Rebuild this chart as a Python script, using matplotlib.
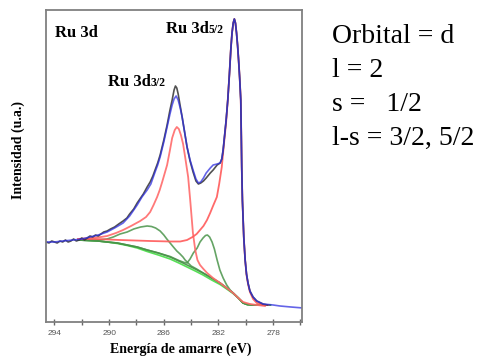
import matplotlib
matplotlib.use("Agg")
import matplotlib.pyplot as plt

# ---- data (binding energy in eV, intensity in a.u.) ----
env_E = [294.61, 294.00, 293.40, 292.63, 292.00, 291.39, 290.80, 290.15, 289.60, 288.98,
         288.50, 287.95, 287.60, 287.22, 286.95, 286.64, 286.45, 286.27, 286.00, 285.76,
         285.55, 285.39, 285.25, 285.10, 284.95, 284.80, 284.66, 284.48, 284.30, 284.08,
         283.86, 283.65, 283.47, 283.30, 283.10, 282.90, 282.60, 282.39, 282.10, 281.88,
         281.76, 281.66, 281.55, 281.44, 281.32, 281.20, 281.10, 281.01, 280.92, 280.84,
         280.76, 280.68, 280.60, 280.53, 280.45, 280.37, 280.33, 280.30, 280.25, 280.15,
         280.05, 279.95, 279.84, 279.70, 279.47, 279.20, 278.74, 278.00, 277.50, 276.70,
         275.81]
env_I = [80, 80, 81, 82, 83, 85, 87, 90, 94, 99,
         106, 117, 125, 132, 138, 150, 157, 165, 180, 195,
         208, 217, 223, 226, 222, 214, 205, 190, 175, 162,
         152, 143, 139, 140, 144, 149, 154, 157, 158, 159,
         163, 172, 187, 202, 222, 248, 272, 289, 299, 303,
         299, 289, 276, 262, 244, 222, 185, 155, 122, 85,
         62, 48, 39, 31, 25, 21, 18, 17, 16, 15,
         14]

data_E = [294.61, 294.40, 294.20, 294.00, 293.80, 293.60, 293.40, 293.20, 293.00, 292.80,
          292.60, 292.40, 292.20, 292.00, 291.80, 291.60, 291.40, 291.20, 291.00, 290.80,
          290.60, 290.40, 290.15, 289.90, 289.60, 289.30, 288.98, 288.70, 288.50, 288.20,
          287.95, 287.70, 287.50, 287.22, 287.00, 286.80, 286.64, 286.45, 286.27, 286.00,
          285.76, 285.55, 285.39, 285.25, 285.15, 285.05, 284.95, 284.80, 284.66, 284.48,
          284.30, 284.08, 283.86, 283.65, 283.47, 283.30, 283.10, 282.90, 282.60, 282.39,
          282.10, 281.88, 281.76, 281.66, 281.55, 281.44, 281.32, 281.20, 281.10, 281.01,
          280.92, 280.84, 280.76, 280.68, 280.60, 280.53, 280.45, 280.37, 280.33, 280.30,
          280.25, 280.15, 280.05, 279.95, 279.84, 279.70, 279.47, 279.20, 278.74, 278.40]
data_I = [80, 79, 81, 80, 79, 81, 80, 82, 80, 81,
          83, 81, 82, 84, 82, 84, 86, 85, 87, 86,
          88, 90, 91, 93, 95, 98, 101, 104, 108, 113,
          119, 124, 128, 135, 140, 146, 152, 159, 167, 182,
          197, 212, 222, 232, 236, 234, 228, 216, 205, 190,
          175, 161, 150, 141, 138, 139, 141, 144, 149, 152,
          157, 159, 163, 172, 187, 202, 222, 248, 272, 289,
          299, 303, 299, 289, 276, 262, 244, 222, 185, 155,
          122, 85, 62, 48, 39, 31, 25, 21, 18, 17]

p32_E = [292.27, 291.40, 290.60, 290.15, 289.50, 288.98, 288.40, 287.73, 287.30, 287.00,
         286.75, 286.49, 286.30, 286.12, 285.95, 285.76, 285.55, 285.39, 285.20, 285.05,
         284.90, 284.75, 284.59, 284.44, 284.22, 284.07, 283.87, 283.70, 283.54, 283.35,
         283.10, 282.83, 282.40, 281.88, 281.40, 280.93, 280.55, 280.20, 279.70, 279.18,
         278.60]
p32_I = [83, 84, 85, 86, 89, 92, 96, 101, 105, 110,
         117, 125, 132, 140, 148, 157, 172, 184, 192, 195,
         193, 187, 178, 165, 145, 122, 89, 72, 62, 57,
         53, 49, 44, 39, 34, 29, 24, 20, 18, 17,
         16]

p52_E = [292.27, 291.00, 289.20, 287.00, 285.50, 284.80, 284.30, 283.90, 283.60, 283.35,
         283.10, 282.84, 282.61, 282.40, 282.12, 281.95, 281.76, 281.60, 281.44, 281.32,
         281.20, 281.10, 281.01, 280.92, 280.84, 280.76, 280.68, 280.60, 280.53, 280.45,
         280.37, 280.33, 280.30, 280.25, 280.15, 280.05, 279.95, 279.84, 279.70, 279.47,
         279.20, 278.74, 278.37]
p52_I = [83, 83, 82, 81, 80.5, 80.5, 82, 85, 88, 92,
         96, 102, 109, 116, 125, 138, 155, 178, 200, 222,
         248, 272, 289, 299, 303, 299, 289, 276, 262, 244,
         222, 185, 155, 122, 85, 62, 47, 38, 30, 23,
         19, 17, 17]

sat1_E = [292.27, 291.50, 290.80, 290.15, 289.70, 289.20, 288.68, 288.20, 287.70, 287.22,
          286.90, 286.60, 286.27, 286.00, 285.78, 285.54, 285.30, 285.05, 284.81, 284.60,
          284.44, 284.22, 284.00, 283.60, 283.13, 282.50, 281.88, 281.40, 280.93, 280.55,
          280.20, 279.90, 279.47, 278.37]
sat1_I = [82, 82, 82, 83, 85, 88, 90, 93, 95, 96,
          95.5, 94, 91, 87, 83, 79, 75, 71, 68, 65,
          62, 59, 56, 53, 49, 44, 39, 34, 29, 24,
          19, 17.5, 17, 17]

sat2_E = [292.27, 291.50, 290.80, 290.15, 289.40, 288.68, 287.95, 287.22, 286.40, 285.54,
          284.90, 284.50, 284.30, 284.08, 283.84, 283.56, 283.35, 283.13, 282.95, 282.81,
          282.65, 282.47, 282.30, 282.10, 281.90, 281.66, 281.40, 281.15, 280.93, 280.55,
          280.20, 279.90, 279.47, 278.37]
sat2_I = [82, 81.5, 81, 80, 79, 77, 75, 72, 69, 65.5,
          61.5, 59.5, 59, 63, 69, 74, 80, 84, 86.5, 87,
          85, 80, 73, 62, 52, 44, 37, 32, 29, 24,
          19, 17.5, 17, 17]

bg_E = [292.27, 291.50, 290.80, 290.15, 289.40, 288.68, 287.95, 287.22, 286.40, 285.54,
        284.90, 284.30, 283.70, 283.13, 282.50, 281.88, 281.40, 280.93, 280.55, 280.20,
        279.90, 279.47, 278.20]
bg_I = [82, 81.5, 81, 80, 79, 77, 75, 72, 69, 65,
        61, 57, 53, 49, 44, 39, 34, 29, 24, 19,
        17.5, 17, 17]
bg2_I = [82, 81.5, 81, 80, 78.5, 76.5, 74, 70.5, 67, 63,
         59, 55, 51, 47, 42, 37.5, 33, 28.5, 24, 19,
         17.5, 17, 17]

xticks = [294, 292, 290, 288, 286, 284, 282, 280, 278, 276]
xticklabels = ["294", "", "290", "", "286", "", "282", "", "278", ""]

right_lines = ["Orbital = d", "l = 2", "s =   1/2", "l-s = 3/2, 5/2"]

# ---- figure ----
W, H = 478, 356
fig = plt.figure(figsize=(W / 100, H / 100), dpi=100)
ax = fig.add_axes([46 / W, 1 - 322 / H, (302 - 46) / W, (322 - 10) / H])

ax.plot(bg_E, bg2_I, color="#44dd44", lw=1.2, alpha=0.9)
ax.plot(bg_E, bg_I, color="#3a8a3a", lw=1.2, alpha=0.85)
ax.plot(sat1_E, sat1_I, color="#4a944a", lw=1.2, alpha=0.85)
ax.plot(sat2_E, sat2_I, color="#4a944a", lw=1.2, alpha=0.85)
ax.plot(p32_E, p32_I, color="#ff6a6a", lw=1.3, alpha=0.9)
ax.plot(p52_E, p52_I, color="#ff5a5a", lw=1.3, alpha=0.9)
ax.plot(data_E, data_I, color="#333333", lw=1.2, alpha=0.85)
ax.plot(env_E, env_I, color="#3030e0", lw=1.2, alpha=0.75)

ax.set_xlim(294.62, 275.89)
ax.set_ylim(0, 312)
ax.set_yticks([])
ax.set_xticks(xticks)
ax.set_xticklabels(xticklabels, fontsize=6, color="#555555", family="Liberation Sans")
ax.tick_params(axis="x", direction="inout", length=4, width=1, color="#666666", pad=4)
for s in ax.spines.values():
    s.set_color("#808080")
    s.set_linewidth(1.3)

serif = "Liberation Serif"
fig.text(55 / W, 1 - 37 / H, "Ru 3d", fontsize=12, fontweight="bold", family=serif)

renderer = fig.canvas.get_renderer()

def sub_label(x, y, main, sub):
    t = fig.text(x / W, 1 - y / H, main, fontsize=12, fontweight="bold", family=serif)
    bb = t.get_window_extent(renderer=renderer)
    fig.text(bb.x1 / W, 1 - y / H, sub, fontsize=8.5, fontweight="bold", family=serif)

sub_label(166, 33, "Ru 3d", "5/2")
sub_label(108, 86, "Ru 3d", "3/2")

fig.text(18 / W, 1 - 150 / H, "Intensidad (u.a.)", rotation=90, ha="center", va="center",
         fontsize=10, fontweight="bold", family=serif)
fig.text(181 / W, 1 - 353 / H, "Energía de amarre (eV)", ha="center", va="baseline",
         fontsize=10, fontweight="bold", family=serif)

for i, line in enumerate(right_lines):
    fig.text(332 / W, 1 - (43 + 34 * i) / H, line, fontsize=20, family=serif, va="baseline")

fig.savefig("out.png", dpi=100)
